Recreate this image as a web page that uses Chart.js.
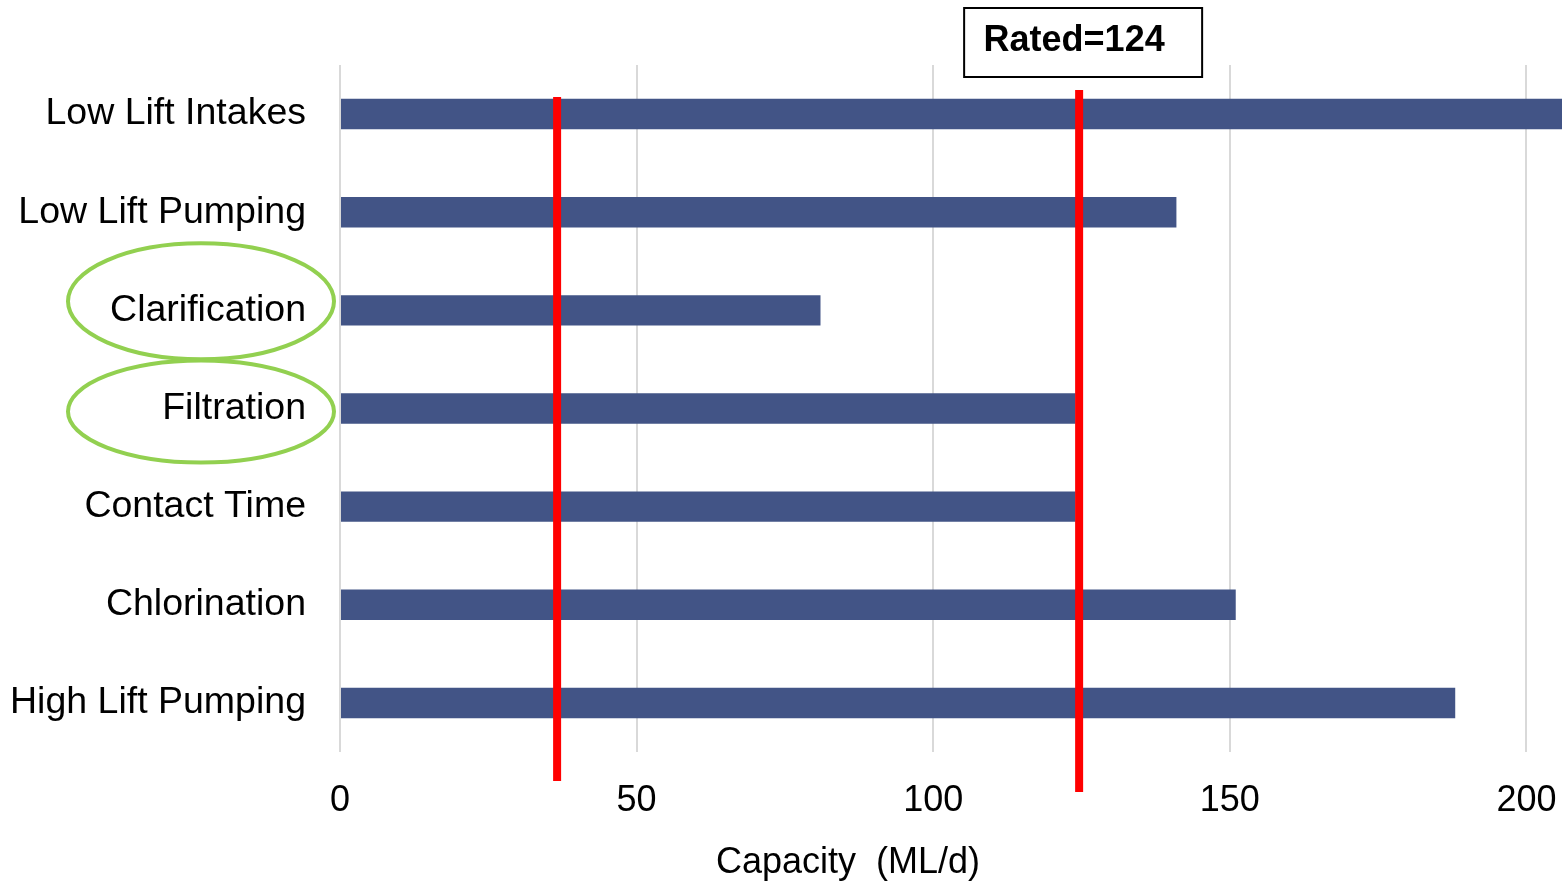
<!DOCTYPE html>
<html>
<head>
	<meta charset="utf-8">
	<script src="https://cdn.jsdelivr.net/npm/chart.js"></script>
	<title>Capacity</title>
	<style type="text/css">
		body{ margin: 0; background: #fff; }
		#wrap{ width: 1562px; height: 886px; position: relative; }
	</style>
</head>
<body>
<div id="wrap">
	<canvas id="capChart"></canvas>
</div>
<script>
  // stages top to bottom, capacity in ML/d
  const stages = ['Low Lift Intakes', 'Low Lift Pumping', 'Clarification', 'Filtration', 'Contact Time', 'Chlorination', 'High Lift Pumping'];
  const capacity = [206, 141, 81, 124, 124, 151, 188];
  const xTicks = [0, 50, 100, 150, 200];
  const redLines = [36.6, 124.6];
  const ratedText = 'Rated=124';
  const axisTitle = 'Capacity  (ML/d)';
  const circled = ['Clarification', 'Filtration'];

  const fontName = '"Liberation Sans", Arial, sans-serif';

  // red lines, rated box, axis title and green ellipses on top of the chart
  const overlay = {
    id: 'overlay',
    afterDraw(chart){
      const ctx = chart.ctx;
      const x = chart.scales.x;
      const y = chart.scales.y;
      const area = chart.chartArea;
      ctx.save();

      // green ellipses round the labels
      ctx.strokeStyle = '#92D050';
      ctx.lineWidth = 4;
      circled.forEach(function(name, i){
        const cy = y.getPixelForValue(stages.indexOf(name));
        const ry = i === 0 ? 58 : 51;
        const dy = i === 0 ? -9 : 3;
        ctx.beginPath();
        ctx.ellipse(201, cy + dy, 133, ry, 0, 0, Math.PI * 2);
        ctx.stroke();
      });

      // red lines
      ctx.strokeStyle = '#FF0000';
      ctx.lineWidth = 8;
      ctx.beginPath();
      let px = x.getPixelForValue(redLines[0]);
      ctx.moveTo(px, area.top + 32);
      ctx.lineTo(px, area.bottom + 29);
      px = x.getPixelForValue(redLines[1]);
      ctx.moveTo(px, area.top + 25);
      ctx.lineTo(px, area.bottom + 40);
      ctx.stroke();

      // rated box
      const bx = px + 4;
      ctx.fillStyle = '#fff';
      ctx.fillRect(bx - 119, 8, 238, 69);
      ctx.strokeStyle = '#000';
      ctx.lineWidth = 2;
      ctx.strokeRect(bx - 119, 8, 238, 69);
      ctx.fillStyle = '#000';
      ctx.font = 'bold 36px ' + fontName;
      ctx.textAlign = 'center';
      ctx.textBaseline = 'middle';
      ctx.fillText(ratedText, bx - 9, 41);

      // axis title, sits left of the plot centre in the original
      ctx.font = '36px ' + fontName;
      ctx.fillText(axisTitle, 848, 863);
      ctx.restore();
    }
  };

  const capChart = new Chart(document.getElementById('capChart'), {
    type: 'bar',
    data: {
      labels: stages,
      datasets: [{
        data: capacity,
        backgroundColor: '#425486',
        borderWidth: 0,
        barPercentage: 0.31,
        categoryPercentage: 1
      }]
    },
    options: {
      indexAxis: 'y',
      responsive: true,
      maintainAspectRatio: false,
      animation: false,
      layout: { padding: { top: 65, right: 0, left: 0, bottom: 0 } },
      plugins: {
        legend: { display: false },
        tooltip: { enabled: false }
      },
      scales: {
        x: {
          min: 0,
          max: 206,
          afterBuildTicks: function(scale){
            scale.ticks = xTicks.map(function(v){ return { value: v }; });
          },
          afterFit: function(scale){
            scale.height = 134;
            scale.paddingLeft = 0;
            scale.paddingRight = 0;
          },
          grid: { color: '#D9D9D9', lineWidth: 2, drawTicks: false },
          border: { display: false },
          ticks: {
            color: '#000',
            padding: 27,
            maxRotation: 0,
            font: { family: fontName, size: 36 }
          }
        },
        y: {
          afterFit: function(scale){ scale.width = 340; },
          grid: { display: false, drawTicks: false },
          border: { display: false },
          ticks: {
            color: '#000',
            padding: 34,
            font: { family: fontName, size: 37.5 }
          }
        }
      }
    },
    plugins: [overlay]
  });
</script>
</body>
</html>
